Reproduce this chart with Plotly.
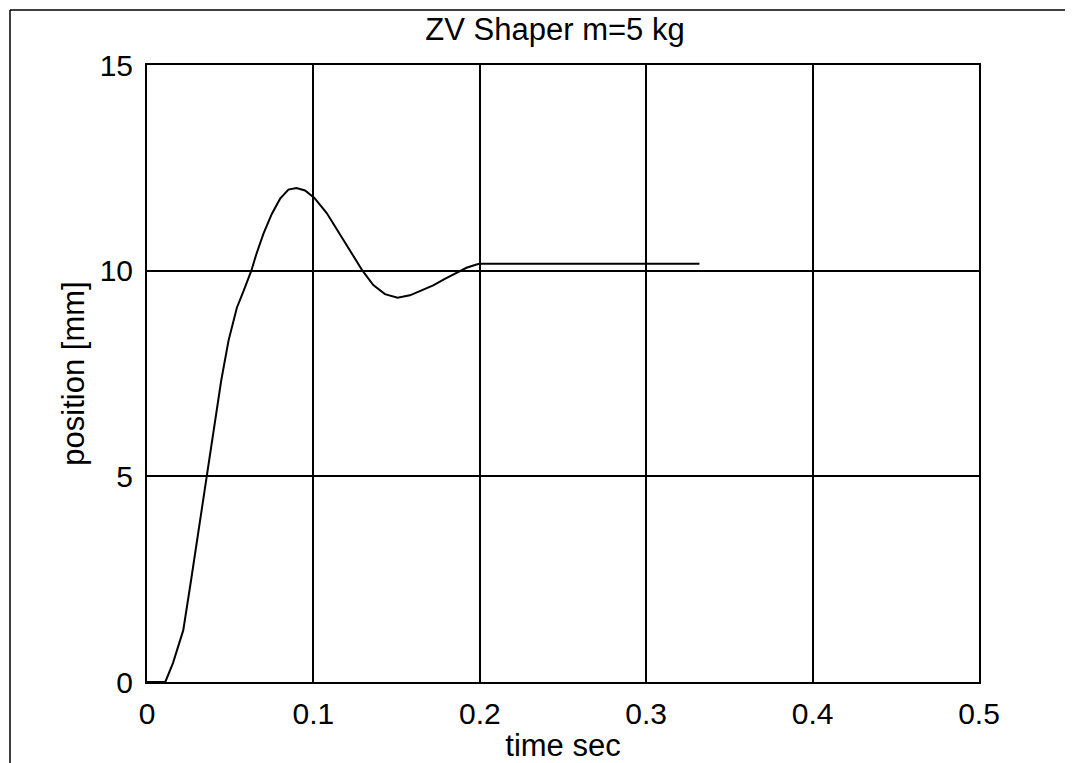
import plotly.graph_objects as go

# Data
time_s = [0.0, 0.011, 0.0156, 0.0218, 0.0265, 0.031, 0.036, 0.041, 0.0446, 0.049,
          0.054, 0.058, 0.0627, 0.0657, 0.070, 0.075, 0.080, 0.085, 0.0898, 0.095,
          0.1006, 0.108, 0.1157, 0.123, 0.1295, 0.136, 0.143, 0.1506, 0.158, 0.165,
          0.172, 0.179, 0.186, 0.192, 0.198, 0.2, 0.25, 0.3, 0.332]
position_mm = [0.0, 0.0, 0.46, 1.26, 2.48, 3.69, 5.0, 6.3, 7.33, 8.3,
               9.1, 9.5, 10.0, 10.4, 10.9, 11.38, 11.75, 11.97, 12.01, 11.95,
               11.77, 11.4, 10.9, 10.45, 10.0, 9.65, 9.43, 9.34, 9.4, 9.52,
               9.64, 9.8, 9.95, 10.07, 10.15, 10.17, 10.17, 10.17, 10.17]

x_ticks = [0, 0.1, 0.2, 0.3, 0.4, 0.5]
x_tick_labels = ["0", "0.1", "0.2", "0.3", "0.4", "0.5"]
y_ticks = [0, 5, 10, 15]
y_tick_labels = ["0", "5", "10", "15"]

title_text = "ZV Shaper m=5 kg"
x_title = "time sec"
y_title = "position [mm]"

FONT = "Liberation Sans, Arial, sans-serif"

fig = go.Figure()
fig.add_trace(go.Scatter(x=time_s, y=position_mm, mode="lines",
                         line=dict(color="black", width=2), showlegend=False))

OFF = 8  # page body margin
W, H = 1073 - OFF, 763 - OFF
L, T = 147 - OFF, 65 - OFF
pw, ph = 832, 617
R, B = W - L - pw, H - T - ph

def px_x(p):  # page pixel -> paper
    return (p - OFF - L) / pw

def px_y(p):
    return (T + ph - (p - OFF)) / ph

fig.update_layout(
    width=W, height=H,
    margin=dict(l=L, r=R, t=T, b=B, autoexpand=False),
    paper_bgcolor="white", plot_bgcolor="white",
    font=dict(family=FONT, color="black", size=30),
    title=dict(text=title_text, x=(555 - OFF) / W, xanchor="center",
               y=1 - (29 - OFF) / H, yanchor="middle",
               font=dict(family=FONT, size=31, color="black")),
    xaxis=dict(range=[0, 0.5], tickvals=x_ticks, ticktext=x_tick_labels,
               showgrid=True, gridcolor="black", gridwidth=1.5,
               showline=True, linecolor="black", linewidth=2, mirror=True,
               zeroline=False, ticks="", ticklabelstandoff=4, automargin=False,
               tickfont=dict(family=FONT, size=30, color="black"),
               title=dict(text=x_title, standoff=6,
                          font=dict(family=FONT, size=31, color="black"))),
    yaxis=dict(range=[0, 15], tickvals=y_ticks, ticktext=y_tick_labels,
               showgrid=True, gridcolor="black", gridwidth=1.5,
               showline=True, linecolor="black", linewidth=2, mirror=True,
               zeroline=False, ticks="", ticklabelstandoff=6, automargin=False,
               tickfont=dict(family=FONT, size=30, color="black"),
               title=dict(text=y_title, standoff=6,
                          font=dict(family=FONT, size=31, color="black"))),
    shapes=[
        dict(type="line", xref="paper", yref="paper",
             x0=px_x(10), x1=px_x(10), y0=px_y(780), y1=px_y(10),
             line=dict(color="black", width=1.5)),
        dict(type="line", xref="paper", yref="paper",
             x0=px_x(10), x1=px_x(1090), y0=px_y(10), y1=px_y(10),
             line=dict(color="black", width=1.5)),
    ],
)

fig.write_html("out.html")
